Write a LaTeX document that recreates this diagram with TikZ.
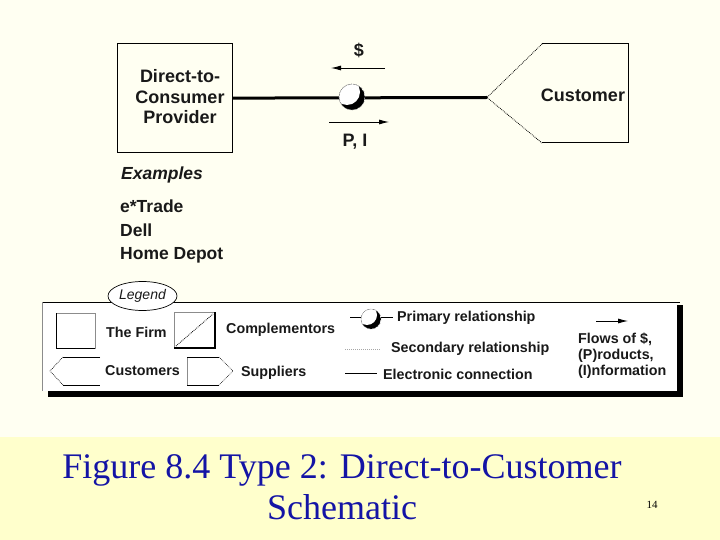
\documentclass[tikz,border=0pt]{standalone}
\usepackage{fontspec}
\setmainfont{Liberation Sans}
\newfontfamily\ttlfont{Liberation Serif}
\usetikzlibrary{arrows.meta,calc,shapes.geometric}
\definecolor{cream}{RGB}{255,255,242}
\definecolor{band}{RGB}{255,255,204}
\definecolor{ttlblue}{RGB}{20,20,165}
\definecolor{ink}{RGB}{25,25,25}
\begin{document}
\begin{tikzpicture}[x=1pt,y=-1pt,
  bigtxt/.style={font=\fontsize{18}{20.5}\selectfont\bfseries, text=ink, inner sep=0pt, align=center},
  exatxt/.style={font=\fontsize{17.5}{20}\selectfont\bfseries, text=ink, inner sep=0pt, anchor=west},
  legtxt/.style={font=\fontsize{14.3}{16}\selectfont\bfseries, text=ink, inner sep=0pt, anchor=west},
  flowarrow/.style={-{Latex[length=10pt,width=5pt]}, line width=0.8pt},
  faint/.style={line width=0.6pt, black!45}]
\useasboundingbox (0,0) rectangle (720,540);
\fill[cream] (0,0) rectangle (720,437);
\fill[band] (0,437) rectangle (720,540);

% ---------- main schematic ----------
\node[draw, line width=1.2pt, minimum width=115pt, minimum height=109pt, anchor=north west, inner sep=0pt] (prov) at (117,43) {};
\node[bigtxt] (provtxt) at (180,97) {Direct-to-\\Consumer\\Provider};

\coordinate (custpt) at (487,97.5);
\coordinate (custtl) at (542,44);
\coordinate (custtr) at (628,44);
\coordinate (custbr) at (628,143);
\coordinate (custbl) at (542,143);
\draw[line width=1pt] (custtl) -- (custtr) -- (custbr) -- (custbl);
\draw[densely dotted, line width=0.8pt] (custtl) -- (custpt) -- (custbl);
\node[bigtxt] (custtxt) at (583,95) {Customer};

\draw[line width=3pt] (prov.east) -- (custpt);

% primary relationship symbol on the line
\coordinate (rel) at (352,97);
\fill[white] (rel) circle (13pt);
\begin{scope}
  \clip (rel) circle (13pt);
  \fill[black] (rel) circle (13pt);
  \fill[white] ($(rel)+(-5,-5)$) circle (13pt);
\end{scope}
\draw[black!50, densely dotted, line width=0.7pt] (rel) circle (13pt);

\coordinate (da) at (385,68);
\coordinate (db) at (331,68);
\draw[flowarrow] (da) -- (db);
\node[bigtxt] (dollar) at (359,50) {\$};
\coordinate (pa) at (329,122);
\coordinate (pb) at (389,122);
\draw[flowarrow] (pa) -- (pb);
\node[bigtxt] (pi) at (355,142) {P, I};

% examples
\node[exatxt] (ex) at (121,175) {\itshape Examples};
\node[exatxt] (ex1) at (120,206) {e*Trade};
\node[exatxt] (ex2) at (120,230) {Dell};
\node[exatxt] (ex3) at (120,255) {Home Depot};

% ---------- legend ----------
\fill[black] (48,391) rectangle (683,397);
\fill[black] (677,305) rectangle (683,397);
\fill[white] (42,302) rectangle (677,391);
\draw[line width=0.8pt] (42,302) -- (680,302);
\draw[faint] (42,302) -- (42,391);
\node[draw, line width=0.7pt, fill=white, ellipse, minimum width=69pt, minimum height=29pt, inner sep=0pt,
      font=\fontsize{14}{16}\selectfont\itshape, text=ink] (legend) at (142.5,296) {Legend};

% the firm
\draw[faint] (56,313) rectangle (95,348);
\draw[line width=0.8pt] (56,313) -- (56,348) -- (95,348);
\node[legtxt] (firm) at (106,332) {The Firm};
% complementors
\draw[faint] (174,312) rectangle (215,348);
\draw[line width=1.3pt] (215,312) -- (215,348) -- (174,348);
\draw[densely dotted, line width=0.8pt] (176,346) -- (213,314);
\node[legtxt] (comp) at (226,330) {Complementors};
% customers
\draw[line width=0.8pt] (100,357) -- (63,357);
\draw[densely dotted, line width=0.7pt] (63,357) -- (50,371) -- (63,385);
\draw[line width=0.8pt] (63,385) -- (100,385);
\node[legtxt] (custl) at (105,371) {Customers};
% suppliers
\draw[faint] (187,357) -- (187,385);
\draw[line width=0.8pt] (187,357) -- (219,357);
\draw[densely dotted, line width=0.7pt] (219,357) -- (233,371) -- (219,385);
\draw[line width=0.8pt] (219,385) -- (187,385);
\node[legtxt] (supl) at (241,373) {Suppliers};

% primary relationship
\coordinate (pra) at (350,317);
\coordinate (prb) at (393,317);
\draw[line width=0.9pt] (pra) -- (prb);
\coordinate (lrel) at (371,319);
\fill[white] (lrel) circle (10pt);
\begin{scope}
  \clip (lrel) circle (10pt);
  \fill[black] (lrel) circle (10pt);
  \fill[white] ($(lrel)+(-4,-4)$) circle (10pt);
\end{scope}
\draw[black!50, densely dotted, line width=0.6pt] (lrel) circle (10pt);
\node[legtxt] (prim) at (397,318) {Primary relationship};
% secondary
\coordinate (sra) at (345,349);
\coordinate (srb) at (381,349);
\draw[black!35, densely dotted, line width=1pt] (sra) -- (srb);
\node[legtxt] (sec) at (391,348.5) {Secondary relationship};
% electronic
\coordinate (eca) at (345,373);
\coordinate (ecb) at (377,373);
\draw[line width=0.8pt] (eca) -- (ecb);
\node[legtxt] (elec) at (383,374) {Electronic connection};
% flows
\coordinate (fla) at (596,321);
\coordinate (flb) at (628,321);
\draw[flowarrow] (fla) -- (flb);
\node[legtxt, align=left, anchor=north west] (flows) at (578,333) {Flows of \$,\\(P)roducts,\\(I)nformation};

% ---------- title ----------
\node[font=\fontsize{36}{41}\selectfont\ttlfont, text=ttlblue, align=center, inner sep=0pt] (title) at (342,487) {Figure 8.4 Type 2: Direct-to-Customer\\Schematic};
\node[font=\fontsize{11}{13}\selectfont\ttlfont, inner sep=0pt] (pageno) at (652,505) {14};
\end{tikzpicture}
\end{document}
